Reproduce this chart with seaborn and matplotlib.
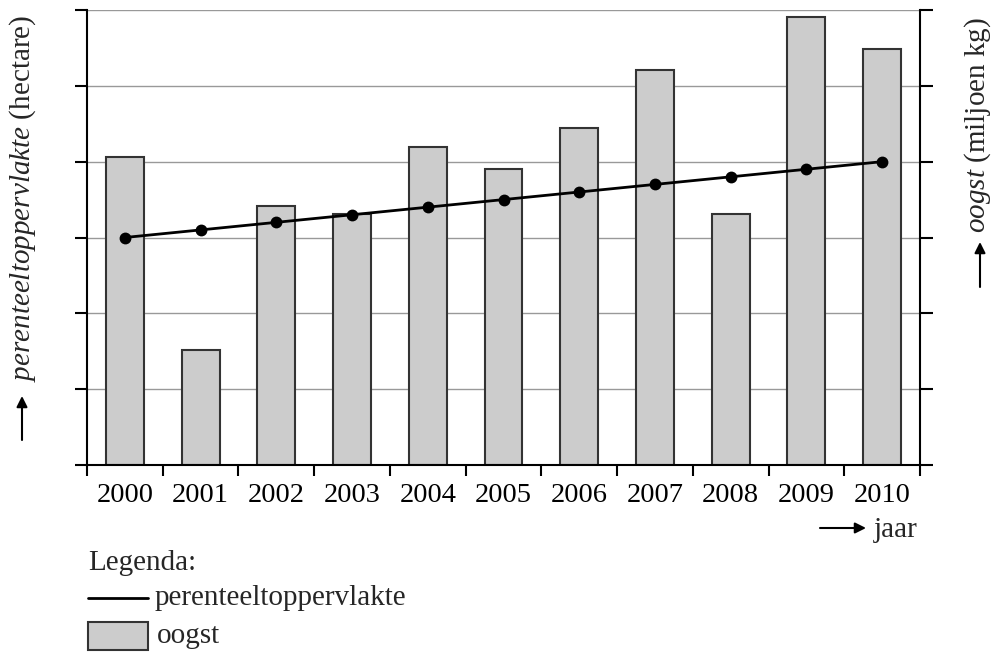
import numpy as np
import pandas as pd
import seaborn as sns
import matplotlib.pyplot as plt
from matplotlib.lines import Line2D
from matplotlib.patches import Rectangle

# Data (in units of one grid step):
jaren = ['2000', '2001', '2002', '2003', '2004', '2005', '2006', '2007', '2008', '2009', '2010']
oogst = [4.06, 1.52, 3.42, 3.31, 4.19, 3.90, 4.44, 5.21, 3.31, 5.91, 5.49]
oppervlakte = [3.0, 3.1, 3.2, 3.3, 3.4, 3.5, 3.6, 3.7, 3.8, 3.9, 4.0]
y_ticks = [0, 1, 2, 3, 4, 5, 6]

W, H = 995, 652


def fx(px):
    return px / W


def fy(py):
    return 1 - py / H


sns.set_theme(style='white')
plt.rcParams['font.family'] = ['Liberation Serif', 'DejaVu Serif']
plt.rcParams['mathtext.fontset'] = 'custom'
plt.rcParams['mathtext.rm'] = 'Liberation Serif'
plt.rcParams['mathtext.it'] = 'Liberation Serif:italic'
FS = 21

df = pd.DataFrame({'jaar': jaren, 'oogst': oogst, 'opp': oppervlakte})

fig = plt.figure(figsize=(W / 100, H / 100), dpi=100)
ax = fig.add_axes([fx(87), fy(465), (920 - 87) / W, (465 - 10) / H])

# Bars for the harvest:
sns.barplot(data=df, x='jaar', y='oogst', color='#cccccc', saturation=1, width=0.5,
            edgecolor='#333333', linewidth=1.5, ax=ax, zorder=2)
# Line for the surface area:
sns.pointplot(data=df, x='jaar', y='opp', color='black', markers='o', errorbar=None,
              markersize=7, linewidth=2, ax=ax, zorder=3)

ax.set_xlim(-0.5, 10.5)
ax.set_ylim(0, 6)
ax.set_yticks(y_ticks)
ax.yaxis.grid(True, color='#999999', linewidth=1)
ax.set_axisbelow(True)
ax.set_xlabel('')
ax.set_ylabel('')

ax.tick_params(axis='y', which='major', left=True, right=True, length=9, width=1.5,
               direction='out', color='black', labelleft=False, labelright=False)
ax.tick_params(axis='x', which='major', length=0, pad=13, labelsize=20.5, labelcolor='black')
ax.set_xticks(np.arange(-0.5, 11, 1), minor=True)
ax.tick_params(axis='x', which='minor', bottom=True, length=8, width=1.5, direction='out', color='black')

ax.spines['top'].set_visible(False)
for s in ['left', 'right', 'bottom']:
    ax.spines[s].set_color('black')
    ax.spines[s].set_linewidth(1.5)

arrow = dict(arrowstyle='-|>', color='black', lw=1.5, mutation_scale=16, shrinkA=0, shrinkB=0)

# Left axis label:
fig.text(fx(23), fy(382), r'$\mathit{perenteeltoppervlakte}$ (hectare)', rotation=90,
         ha='center', va='bottom', fontsize=FS)
ax.annotate('', xy=(fx(22), fy(396)), xytext=(fx(22), fy(440)), xycoords='figure fraction',
            arrowprops=arrow, annotation_clip=False)

# Right axis label:
fig.text(fx(978), fy(233), r'$\mathit{oogst}$ (miljoen kg)', rotation=90,
         ha='center', va='bottom', fontsize=FS)
ax.annotate('', xy=(fx(980), fy(242)), xytext=(fx(980), fy(287)), xycoords='figure fraction',
            arrowprops=arrow, annotation_clip=False)

# x label with arrow:
ax.annotate('', xy=(fx(866), fy(528)), xytext=(fx(820), fy(528)), xycoords='figure fraction',
            arrowprops=arrow, annotation_clip=False)
fig.text(fx(874), fy(537), 'jaar', ha='left', va='baseline', fontsize=FS)

# Legend:
fig.text(fx(88), fy(570), 'Legenda:', ha='left', va='baseline', fontsize=FS)
fig.add_artist(Line2D([fx(88), fx(148)], [fy(598), fy(598)], color='black', lw=2,
                      transform=fig.transFigure))
fig.text(fx(155), fy(605), 'perenteeltoppervlakte', ha='left', va='baseline', fontsize=FS)
fig.add_artist(Rectangle((fx(88), fy(650)), (148 - 88) / W, (650 - 622) / H,
                         facecolor='#cccccc', edgecolor='#333333', lw=1.5,
                         transform=fig.transFigure))
fig.text(fx(157), fy(643), 'oogst', ha='left', va='baseline', fontsize=FS)

fig.savefig('out.png', dpi=100)
